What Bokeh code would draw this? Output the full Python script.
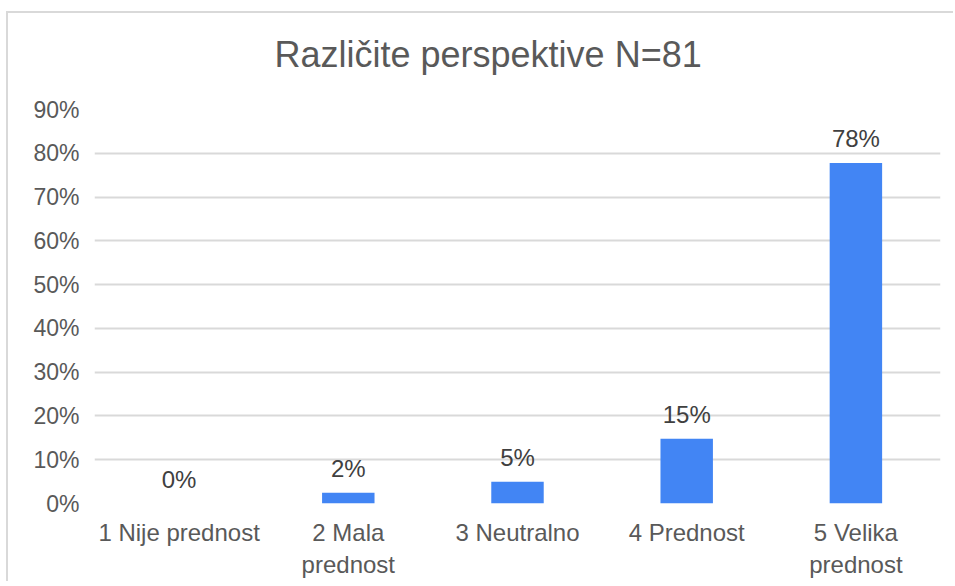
from bokeh.plotting import figure
from bokeh.models import ColumnDataSource, Range1d, FixedTicker, CustomJSTickFormatter
from bokeh.core.properties import value
from bokeh.embed import file_html
from bokeh.resources import INLINE

categories = ["1 Nije prednost", "2 Mala\nprednost", "3 Neutralno", "4 Prednost", "5 Velika\nprednost"]
percent_values = [0.0, 2.47, 4.94, 14.81, 77.78]
y_ticks = [0, 10, 20, 30, 40, 50, 60, 70, 80, 90]
title_text = "Različite perspektive N=81"

FONT = "Liberation Sans"

labels = [f"{round(v)}%" for v in percent_values]
source = ColumnDataSource(dict(cat=categories, val=percent_values, lab=labels))

p = figure(
    x_range=categories,
    y_range=Range1d(0, 90),
    width=947, height=570,
    output_backend="svg", toolbar_location=None,
    min_border_left=86, min_border_right=15, min_border_top=96, min_border_bottom=80,
)
p.styles = {"border-top": "2px solid #d9d9d9", "border-left": "2px solid #d9d9d9",
            "margin-left": "6px", "margin-top": "11px"}

# second (blank) line lifts the title up within the space above the plot
p.title.text = title_text + "\n\u00a0"
p.title.text_font = FONT
p.title.text_font_size = "36px"
p.title.text_font_style = "normal"
p.title.text_color = "#595959"
p.title.text_line_height = 0.85
p.title.align = "left"
p.title.offset = 180
p.title.standoff = 0

p.vbar(x="cat", top="val", width=0.31, source=source, color="#4285F4", line_color=None)
p.text(x="cat", y="val", text="lab", source=source, text_align="center", text_baseline="bottom",
       y_offset=-11, text_font=value(FONT), text_font_size="24px", text_color="#404040")

p.outline_line_color = None
p.xgrid.grid_line_color = None
p.ygrid.grid_line_color = "#d9d9d9"
p.ygrid.grid_line_width = 2

p.yaxis.ticker = FixedTicker(ticks=y_ticks)
p.yaxis.formatter = CustomJSTickFormatter(code="return tick + '%';")
for ax in (p.xaxis, p.yaxis):
    ax.axis_line_color = None
    ax.major_tick_line_color = None
    ax.minor_tick_line_color = None
    ax.major_label_text_font = FONT
    ax.major_label_text_color = "#595959"
p.yaxis.major_label_text_font_size = "23px"
p.xaxis.major_label_text_font_size = "24px"
p.yaxis.major_label_standoff = 9
p.xaxis.major_label_standoff = 9
p.x_range.range_padding = 0

open("out.html", "w").write(file_html(p, INLINE))
